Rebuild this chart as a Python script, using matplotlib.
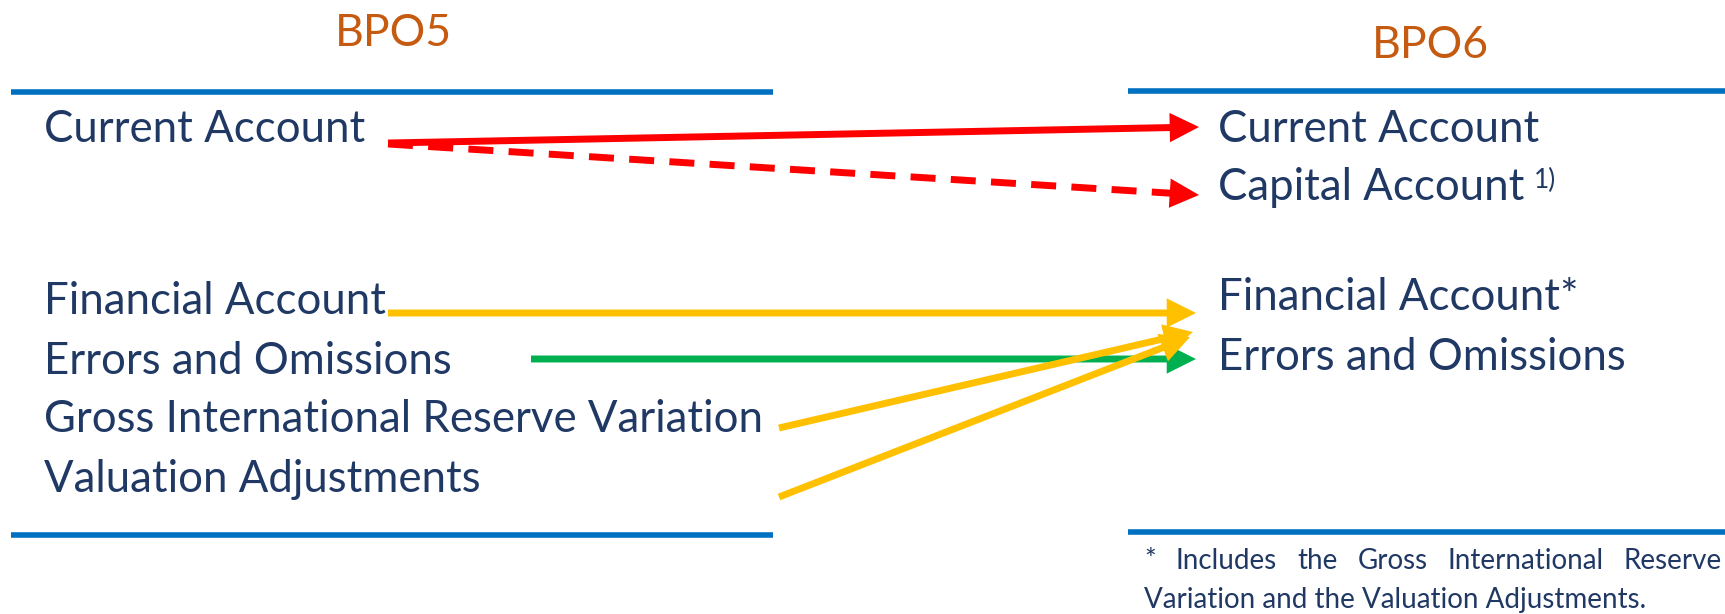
import matplotlib
matplotlib.use("Agg")
import matplotlib.pyplot as plt
import numpy as np
from matplotlib.patches import FancyArrowPatch

# ---- data ----
titles = ["BPO5", "BPO6"]
left_labels = ["Current Account", "Financial Account", "Errors and Omissions",
               "Gross International Reserve Variation", "Valuation Adjustments"]
right_labels = ["Current Account", "Capital Account", "Financial Account*",
                "Errors and Omissions"]
# mappings: (left index, right index, colour key, dashed)
links = [(0, 0, "red", False), (0, 1, "red", True), (1, 2, "yellow", False),
         (2, 3, "green", False), (3, 2, "yellow", False), (4, 2, "yellow", False)]
footnote_words_1 = ["*", "Includes", "the", "Gross", "International", "Reserve"]
footnote_line_2 = "Variation and the Valuation Adjustments."
superscript = "1)"

# ---- style ----
FONT = "Lato"
WEIGHT = "normal"
TXT = "#203864"
ORANGE = "#C55A11"
BLUE = "#0070C0"
COLS = {"red": "#FF0000", "yellow": "#FFC000", "green": "#00B050"}

W, H = 1725, 614
fig = plt.figure(figsize=(W / 100, H / 100), dpi=100)
ax = fig.add_axes([0, 0, 1, 1])
ax.set_xlim(0, W)
ax.set_ylim(H, 0)
ax.axis("off")

LS = 31.5
# titles
ax.text(393, 33, titles[0], color=ORANGE, fontsize=32, family=FONT, weight=WEIGHT,
        ha="center", va="center")
ax.text(1430, 46, titles[1], color=ORANGE, fontsize=32, family=FONT, weight=WEIGHT,
        ha="center", va="center")

# blue rules
for x0, x1, y in [(11, 773, 92), (11, 773, 535), (1128, 1725, 91), (1128, 1725, 532)]:
    ax.plot([x0, x1], [y, y], color=BLUE, lw=4, solid_capstyle="butt")

left_y = [130, 302, 361, 420, 480]
right_y = [130, 188, 298, 357]
for lab, y in zip(left_labels, left_y):
    ax.text(44, y, lab, color=TXT, fontsize=LS, family=FONT, weight=WEIGHT,
            ha="left", va="center")
rtexts = []
for lab, y in zip(right_labels, right_y):
    rtexts.append(ax.text(1218, y, lab, color=TXT, fontsize=LS, family=FONT,
                          weight=WEIGHT, ha="left", va="center"))

fig.canvas.draw()
renderer = fig.canvas.get_renderer()
inv = ax.transData.inverted()
bb = rtexts[1].get_window_extent(renderer)
x_end = inv.transform((bb.x1, bb.y1))[0]
ax.text(x_end + 10, 180, superscript, color=TXT, fontsize=19, family=FONT,
        weight=WEIGHT, ha="left", va="center")

# arrows
starts = {0: (388, 143), 1: (388, 313), 2: (531, 359), 3: (779, 428), 4: (779, 497)}
ends = {(0, 0): (1199, 127), (0, 1): (1199, 195), (1, 2): (1196, 313),
        (2, 3): (1196, 359), (3, 2): (1193, 332), (4, 2): (1190, 337)}
HEAD = 24
for li, ri, c, dashed in links:
    p0 = np.array(starts[li], float)
    if dashed:
        p0 = p0 + [0, 1]
    p1 = np.array(ends[(li, ri)], float)
    if dashed:
        d = (p1 - p0) / np.hypot(*(p1 - p0))
        pm = p1 - d * HEAD
        ax.plot([p0[0], pm[0]], [p0[1], pm[1]], color=COLS[c], lw=5,
                linestyle=(0, (3.6, 2.2)), dash_capstyle="butt")
        p0 = pm - d * 2
    arr = FancyArrowPatch(tuple(p0), tuple(p1),
                          arrowstyle="-|>,head_length=1.0,head_width=0.5",
                          mutation_scale=13, color=COLS[c], lw=5,
                          shrinkA=0, shrinkB=0, capstyle="butt", joinstyle="miter")
    ax.add_patch(arr)

# footnote (justified first line)
FS = 20
x0f, x1f = 1144, 1722
tobjs = []
for w in footnote_words_1:
    t = ax.text(0, 561, w, color=TXT, fontsize=FS, family=FONT, weight=WEIGHT,
                ha="left", va="center")
    tobjs.append(t)
fig.canvas.draw()
widths = []
for t in tobjs:
    b = t.get_window_extent(renderer)
    widths.append(b.width)
gap = (x1f - x0f - sum(widths)) / (len(widths) - 1)
x = x0f
for t, w in zip(tobjs, widths):
    t.set_x(x)
    x += w + gap
ax.text(x0f, 600, footnote_line_2, color=TXT, fontsize=FS, family=FONT,
        weight=WEIGHT, ha="left", va="center")

fig.savefig("out.png", dpi=100, facecolor="white")
